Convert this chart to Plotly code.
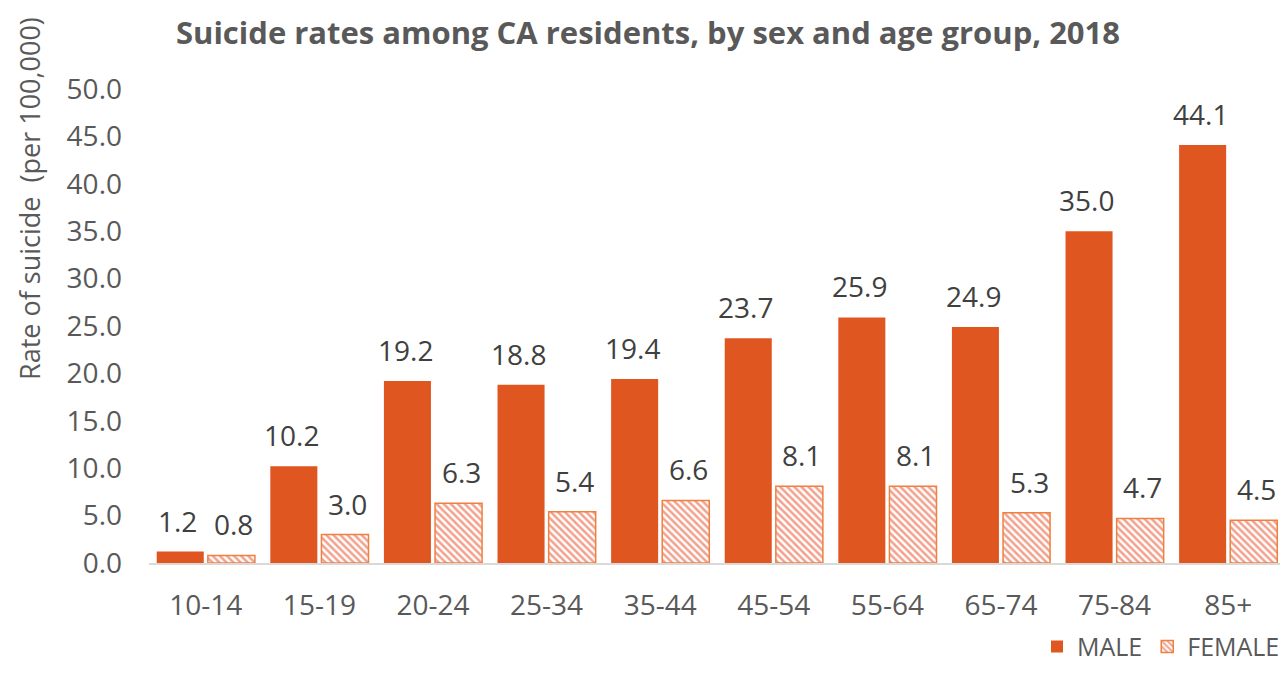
import plotly.graph_objects as go

categories = ["10-14", "15-19", "20-24", "25-34", "35-44", "45-54", "55-64", "65-74", "75-84", "85+"]
male = [1.2, 10.2, 19.2, 18.8, 19.4, 23.7, 25.9, 24.9, 35.0, 44.1]
female = [0.8, 3.0, 6.3, 5.4, 6.6, 8.1, 8.1, 5.3, 4.7, 4.5]

FONT = "'Open Sans', sans-serif"
GRAY = "#595959"
fig = go.Figure()
fig.add_trace(go.Bar(
    x=categories, y=male, name="MALE",
    marker=dict(color="#E05620", line=dict(width=0)),
))
fig.add_trace(go.Bar(
    x=categories, y=female, name="FEMALE",
    marker=dict(color="white", line=dict(color="#F08040", width=1.5),
                pattern=dict(shape="\\", fgcolor="#E8421A", bgcolor="white", size=5, solidity=0.5)),
))

# data labels, placed above each bar
for vals, dx in ((male, -28), (female, 28)):
    for c, v in zip(categories, vals):
        fig.add_annotation(x=c, y=v, xref="x", yref="y", text=f"{v:.1f}",
                           showarrow=False, xshift=dx, yshift=31, yanchor="middle",
                           font=dict(size=28, color="#404040", family=FONT))

# y-axis title
fig.add_annotation(x=0, y=0.768, xref="paper", yref="paper", xshift=-119,
                   text="Rate of suicide  (per 100,000)", textangle=-90, showarrow=False,
                   xanchor="center", yanchor="middle",
                   font=dict(size=27, color=GRAY, family=FONT))

fig.update_layout(
    width=1280, height=666,
    paper_bgcolor="white", plot_bgcolor="white",
    margin=dict(l=141, r=3, t=81, b=111, autoexpand=False),
    barmode="group", bargap=0.1, bargroupgap=0.08,
    title=dict(text="<b>Suicide rates among CA residents, by sex and age group, 2018</b>",
               x=0.5, xanchor="center", y=0.9625, yanchor="middle",
               font=dict(size=31, color=GRAY, family=FONT)),
    font=dict(family=FONT, color=GRAY),
    xaxis=dict(showline=True, linecolor="#D9D9D9", linewidth=1.5, ticks="", automargin=False,
               ticklabelstandoff=17, tickfont=dict(size=28, color=GRAY)),
    yaxis=dict(range=[0, 50], dtick=5, tickformat=".1f", showgrid=False, zeroline=False,
               showline=False, automargin=False, ticklabelstandoff=26,
               tickfont=dict(size=28, color=GRAY)),
    legend=dict(orientation="h", x=1.0, xanchor="right", y=-0.128, yanchor="top",
                bgcolor="rgba(0,0,0,0)", font=dict(size=25, color=GRAY), traceorder="normal"),
)
fig.write_html("out.html")
